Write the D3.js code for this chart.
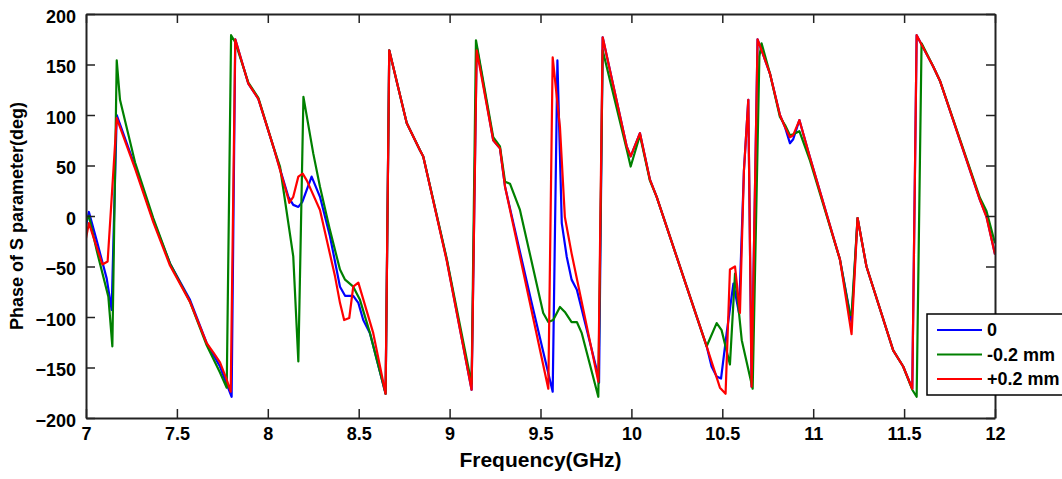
<!DOCTYPE html>
<html>
<head>
<meta charset="utf-8">
<script src="https://cdn.jsdelivr.net/npm/d3@7"></script>
<style>
  html, body { margin: 0; padding: 0; background: #fff; overflow: hidden; }
  svg { display: block; }
  text { font-family: "Liberation Sans", Arial, sans-serif; font-weight: bold; fill: #000; }
</style>
</head>
<body>
<script>
// ! Figure size
const width = 1062;
const height = 479;

// ! Data (GHz, deg)
// prettier-ignore
const freq0 = [7.0,7.016,7.06,7.114,7.141,7.169,7.27,7.37,7.462,7.572,7.664,7.737,7.801,7.821,7.893,7.948,8.03,8.113,8.14,8.168,8.19,8.241,8.287,8.342,8.397,8.425,8.47,8.498,8.525,8.562,8.648,8.668,8.764,8.837,8.855,8.984,9.121,9.149,9.24,9.277,9.305,9.45,9.567,9.593,9.617,9.644,9.671,9.7,9.809,9.822,9.842,9.974,9.996,10.047,10.102,10.139,10.304,10.414,10.441,10.469,10.493,10.524,10.561,10.592,10.619,10.643,10.661,10.694,10.762,10.817,10.845,10.872,10.89,10.924,10.982,11.147,11.211,11.244,11.293,11.44,11.495,11.545,11.569,11.66,11.697,11.917,11.953,12.0];
// prettier-ignore
const phase0 = [-10,4,-25,-62,-93,100,49,-4,-47,-83,-126,-149,-179,175,131,116,69,19,11,9,14,39,19,-20,-70,-79,-79,-86,-103,-116,-176,164,92,65,59,-43,-172,168,75,67,29,-85,-174,154,-7,-40,-63,-73,-152,-165,177,69,59,82,36,19,-70,-129,-149,-159,-161,-116,-67,-96,45,115,-169,175,141,100,88,72,76,95,58,-43,-105,-2,-50,-133,-149,-171,179,148,134,16,0,-38];

// prettier-ignore
const freqMinus = [7.0,7.016,7.06,7.123,7.145,7.169,7.187,7.27,7.37,7.462,7.572,7.664,7.737,7.774,7.798,7.821,7.893,7.948,8.03,8.067,8.14,8.168,8.196,8.25,8.287,8.342,8.397,8.425,8.47,8.507,8.562,8.648,8.668,8.764,8.837,8.855,8.984,9.121,9.145,9.24,9.277,9.305,9.332,9.387,9.515,9.543,9.57,9.607,9.634,9.671,9.7,9.727,9.818,9.842,9.974,9.996,10.047,10.102,10.139,10.304,10.414,10.469,10.496,10.542,10.57,10.607,10.667,10.704,10.716,10.762,10.817,10.845,10.872,10.89,10.924,10.982,11.147,11.202,11.211,11.244,11.293,11.44,11.495,11.545,11.569,11.596,11.66,11.697,11.917,11.953,12.0];
// prettier-ignore
const phaseMinus = [-5,0,-35,-80,-129,154,115,53,-2,-47,-85,-128,-155,-170,179,172,132,117,69,49,-40,-144,118,62,29,-14,-53,-63,-70,-83,-116,-176,164,92,65,59,-42,-166,174,78,69,34,32,6,-96,-105,-103,-90,-95,-105,-105,-116,-179,164,66,49,80,35,19,-70,-129,-106,-113,-147,-57,-123,-171,158,171,141,98,90,80,81,84,55,-43,-98,-98,-2,-50,-133,-149,-172,-179,171,148,134,18,5,-27];

// prettier-ignore
const freqPlus = [7.0,7.016,7.09,7.119,7.169,7.27,7.37,7.462,7.572,7.664,7.70,7.737,7.774,7.796,7.821,7.893,7.948,8.03,8.113,8.118,8.14,8.168,8.192,8.215,8.287,8.37,8.397,8.42,8.448,8.47,8.498,8.58,8.648,8.668,8.764,8.837,8.855,8.984,9.121,9.149,9.24,9.277,9.305,9.543,9.567,9.607,9.634,9.671,9.818,9.842,9.974,9.996,10.047,10.102,10.139,10.304,10.414,10.487,10.518,10.542,10.57,10.597,10.619,10.643,10.661,10.694,10.762,10.817,10.845,10.872,10.89,10.924,10.982,11.147,11.211,11.244,11.293,11.44,11.495,11.545,11.569,11.66,11.697,11.917,11.953,12.0];
// prettier-ignore
const phasePlus = [-22,-7,-48,-45,97,47,-6,-49,-85,-126,-135,-145,-162,-174,175,131,116,69,17,13,19,39,42,35,6,-60,-86,-103,-101,-70,-66,-116,-176,164,92,65,59,-44,-172,164,75,67,29,-171,157,88,-1,-37,-164,177,69,59,82,36,19,-70,-129,-170,-176,-53,-50,-96,45,115,-169,175,141,100,88,78,80,95,58,-43,-117,-2,-50,-133,-149,-171,179,148,134,16,-1,-38];

const xTicks = [7, 7.5, 8, 8.5, 9, 9.5, 10, 10.5, 11, 11.5, 12];
const yTicks = [-200, -150, -100, -50, 0, 50, 100, 150, 200];

const seriesNames = ["0", "-0.2 mm", "+0.2 mm"];
const seriesColors = ["#0000ff", "#008000", "#ff0000"];

// ! Margin convention
const margin = { top: 14, right: 67, bottom: 61, left: 86 };
const innerWidth = width - margin.left - margin.right;
const innerHeight = height - margin.top - margin.bottom;

const svg = d3
  .select("body")
  .append("svg")
  .attr("width", width)
  .attr("height", height);

const g = svg
  .append("g")
  .attr("transform", `translate(${margin.left}, ${margin.top})`);

// ! Scales
const xScale = d3.scaleLinear().domain([7, 12]).range([0, innerWidth]);
const yScale = d3.scaleLinear().domain([-200, 200]).range([innerHeight, 0]);

// ! Curves
const series = [
  freq0.map((f, i) => [f, phase0[i]]),
  freqMinus.map((f, i) => [f, phaseMinus[i]]),
  freqPlus.map((f, i) => [f, phasePlus[i]]),
];

const line = d3
  .line()
  .x((d) => xScale(d[0]))
  .y((d) => yScale(d[1]));

g.append("defs")
  .append("clipPath")
  .attr("id", "plotClip")
  .append("rect")
  .attr("width", innerWidth)
  .attr("height", innerHeight);

g.append("g")
  .attr("clip-path", "url(#plotClip)")
  .selectAll("path")
  .data(series)
  .enter()
  .append("path")
  .attr("d", line)
  .attr("fill", "none")
  .attr("stroke", (d, i) => seriesColors[i])
  .attr("stroke-width", 2.2)
  .attr("stroke-linejoin", "round");

// ! Axes (ticks inside, box on all sides)
const tickLen = 9;
const styleAxis = (sel) => {
  sel.selectAll(".domain").attr("stroke", "#222").attr("stroke-width", 2);
  sel.selectAll(".tick line").attr("stroke", "#222").attr("stroke-width", 1.5);
  sel
    .selectAll(".tick text")
    .style("font-size", "18px")
    .style("font-family", '"Liberation Sans", Arial, sans-serif')
    .style("font-weight", "bold")
    .attr("fill", "#000");
};

g.append("g")
  .attr("transform", `translate(0, ${innerHeight})`)
  .call(
    d3.axisBottom(xScale).tickValues(xTicks).tickFormat(d3.format("")).tickSizeInner(-tickLen).tickSizeOuter(0).tickPadding(9)
  )
  .call(styleAxis);

g.append("g")
  .call(
    d3.axisLeft(yScale).tickValues(yTicks).tickSizeInner(-tickLen).tickSizeOuter(0).tickPadding(10)
  )
  .call(styleAxis)
  .selectAll(".tick text")
  .attr("dy", "0.45em");

// top and right frames: ticks only, no labels
g.append("g")
  .call(d3.axisTop(xScale).tickValues(xTicks).tickSizeInner(-tickLen).tickSizeOuter(0))
  .call(styleAxis)
  .call((a) => a.selectAll(".tick text").remove());

g.append("g")
  .attr("transform", `translate(${innerWidth}, 0)`)
  .call(d3.axisRight(yScale).tickValues(yTicks).tickSizeInner(-tickLen).tickSizeOuter(0))
  .call(styleAxis)
  .call((a) => a.selectAll(".tick text").remove());

// ! Axis labels
svg
  .append("text")
  .attr("x", margin.left + innerWidth / 2)
  .attr("y", 467)
  .attr("text-anchor", "middle")
  .style("font-size", "21px")
  .text("Frequency(GHz)");

svg
  .append("text")
  .attr("transform", `translate(23, ${margin.top + innerHeight / 2}) rotate(-90)`)
  .attr("text-anchor", "middle")
  .style("font-size", "18px")
  .text("Phase of S parameter(deg)");

// ! Legend
const legend = svg.append("g").attr("transform", "translate(927, 314)");
legend
  .append("rect")
  .attr("width", 140)
  .attr("height", 81)
  .attr("fill", "#fff")
  .attr("stroke", "#000")
  .attr("stroke-width", 1.5);

const legendRows = legend
  .selectAll(".row")
  .data(seriesNames)
  .enter()
  .append("g")
  .attr("class", "row")
  .attr("transform", (d, i) => `translate(0, ${16 + i * 24.5})`);

legendRows
  .append("line")
  .attr("x1", 10)
  .attr("x2", 55)
  .attr("stroke", (d, i) => seriesColors[i])
  .attr("stroke-width", 2.2);

legendRows
  .append("text")
  .attr("x", 60)
  .attr("dy", "0.35em")
  .style("font-size", "18px")
  .text((d) => d);
</script>
</body>
</html>
